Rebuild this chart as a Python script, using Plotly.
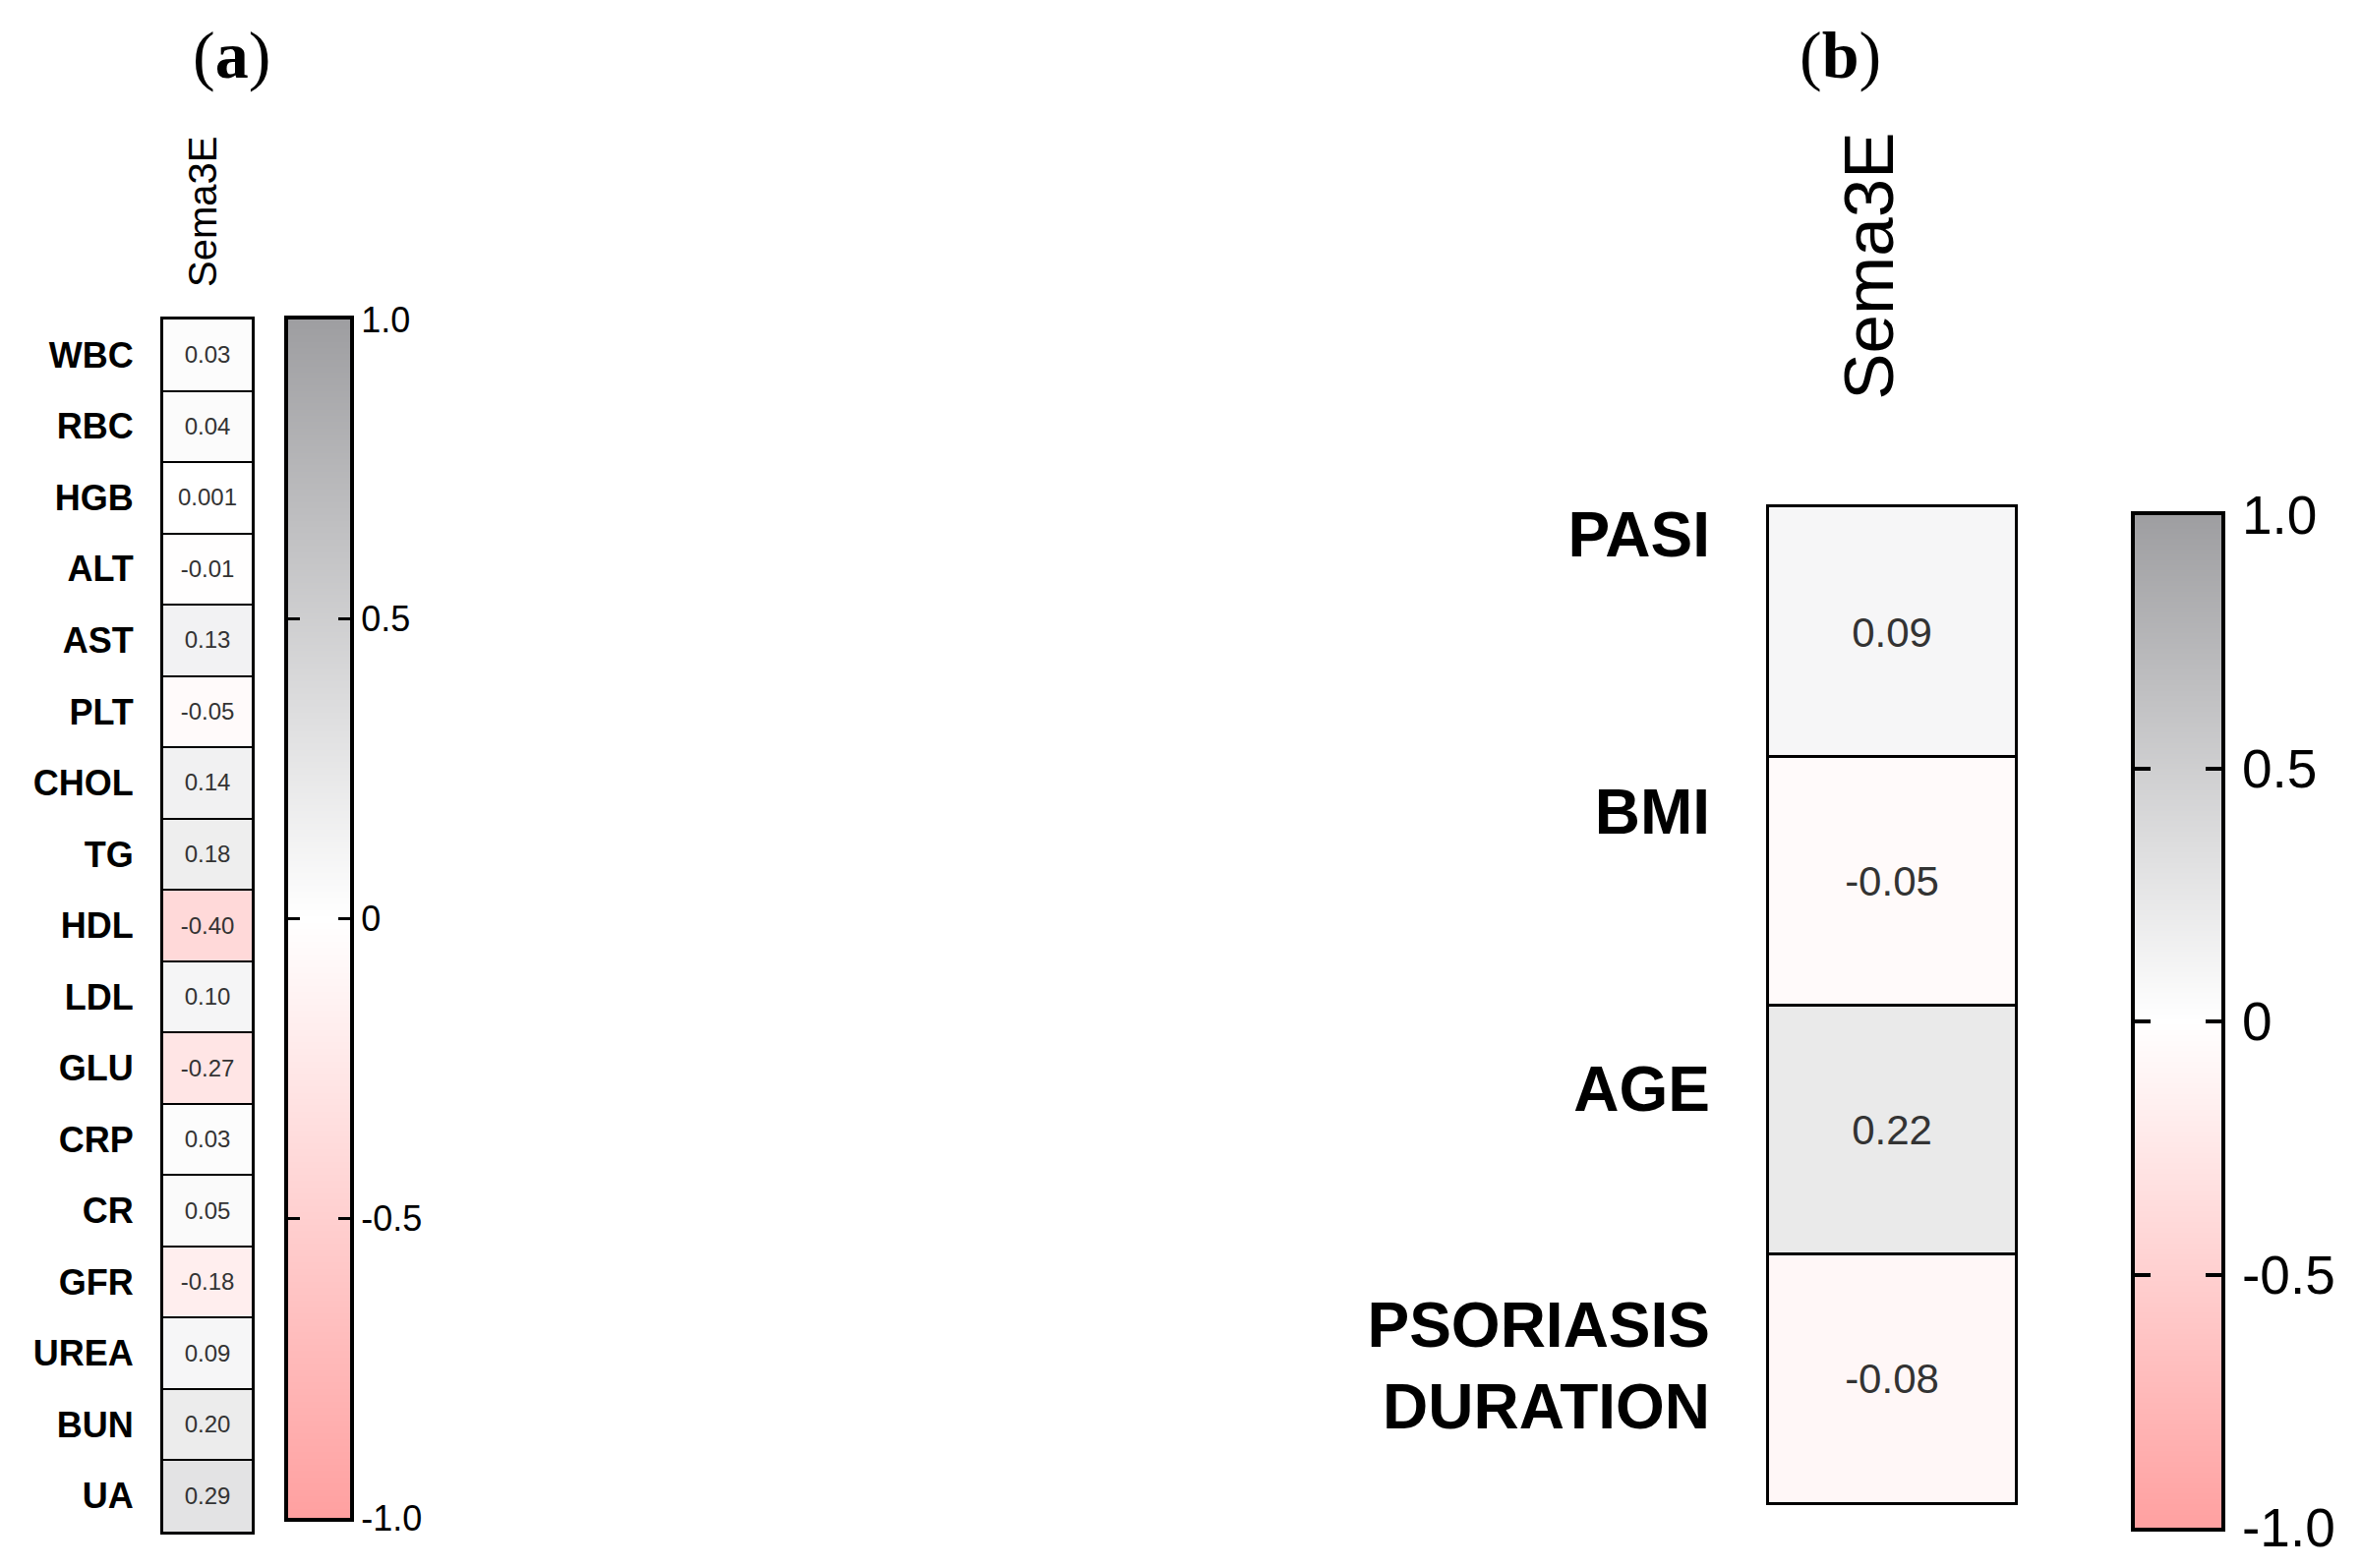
import plotly.graph_objects as go

W, H = 2401, 1595

# panel (a) - blood parameters vs Sema3E
a_labels = ["WBC", "RBC", "HGB", "ALT", "AST", "PLT", "CHOL", "TG", "HDL",
            "LDL", "GLU", "CRP", "CR", "GFR", "UREA", "BUN", "UA"]
a_values = [0.03, 0.04, 0.001, -0.01, 0.13, -0.05, 0.14, 0.18, -0.40,
            0.10, -0.27, 0.03, 0.05, -0.18, 0.09, 0.20, 0.29]
a_text = ["0.03", "0.04", "0.001", "-0.01", "0.13", "-0.05", "0.14", "0.18", "-0.40",
          "0.10", "-0.27", "0.03", "0.05", "-0.18", "0.09", "0.20", "0.29"]

# panel (b) - clinical parameters vs Sema3E
b_labels = ["PASI", "BMI", "AGE", "PSORIASIS<br>DURATION"]
b_values = [0.09, -0.05, 0.22, -0.08]
b_text = ["0.09", "-0.05", "0.22", "-0.08"]

column = ["Sema3E"]
bar_ticks = [-1.0, -0.5, 0.0, 0.5, 1.0]
bar_ticktext = ["-1.0", "-0.5", "0", "0.5", "1.0"]

scale = [[0.0, "rgb(255,160,160)"], [0.5, "rgb(255,255,255)"], [1.0, "rgb(158,158,161)"]]
FONT = "Liberation Sans, Arial, sans-serif"
SERIF = "Liberation Serif, Times New Roman, serif"


def px(x):
    return x / W


def py(y):
    return 1 - y / H


fig = go.Figure()

fig.add_trace(go.Heatmap(
    z=[[v] for v in a_values], x=column, y=a_labels,
    text=[[t] for t in a_text], texttemplate="%{text}",
    textfont=dict(size=24, color="#333333", family=FONT),
    coloraxis="coloraxis", xaxis="x", yaxis="y", hoverinfo="skip"))

fig.add_trace(go.Heatmap(
    z=[[v] for v in b_values], x=column, y=b_labels,
    text=[[t] for t in b_text], texttemplate="%{text}",
    textfont=dict(size=42, color="#333333", family=FONT),
    coloraxis="coloraxis", xaxis="x2", yaxis="y2", hoverinfo="skip"))

# row names of (b) are spread a little wider than the cells in the original
fig.add_trace(go.Scatter(
    x=column * len(b_labels), y=b_labels, mode="markers",
    marker=dict(opacity=0), xaxis="x5", yaxis="y5", hoverinfo="skip"))

# colour bars drawn as smooth heatmaps so the ticks can sit on both edges
for xa, ya in [("x3", "y3"), ("x4", "y4")]:
    fig.add_trace(go.Heatmap(
        z=[[t, t] for t in bar_ticks], x=[0, 1], y=bar_ticks, zsmooth="best",
        coloraxis="coloraxis", xaxis=xa, yaxis=ya, hoverinfo="skip"))

cat_x = dict(side="top", tickangle=-90, ticks="", showline=True, mirror=True,
             linecolor="black", showgrid=False, zeroline=False, automargin=False)
# cell dividers come from boundary ticks drawn across the column
cat_y = dict(autorange="reversed", ticks="inside", tickson="boundaries",
             tickcolor="black", showline=True, mirror=True,
             linecolor="black", showgrid=False, zeroline=False, automargin=False)
bar_x = dict(range=[0, 1], showline=True, mirror=True, linecolor="black",
             showticklabels=False, ticks="", showgrid=False, zeroline=False,
             automargin=False)
bar_y = dict(range=[-1, 1], side="right", tickvals=bar_ticks, ticktext=bar_ticktext,
             ticks="inside", mirror="ticks", showline=True, linecolor="black",
             tickcolor="black", showgrid=False, zeroline=False, automargin=False)

fig.update_layout(
    width=W, height=H,
    margin=dict(l=0, r=0, t=0, b=0),
    paper_bgcolor="white", plot_bgcolor="white",
    showlegend=False,
    font=dict(family=FONT, color="black"),
    coloraxis=dict(colorscale=scale, cmin=-1, cmax=1, showscale=False),
    xaxis=dict(cat_x, domain=[px(158), px(248)], anchor="y", linewidth=3,
               tickfont=dict(size=40), ticklabelstandoff=22, ticklabelshift=-4),
    yaxis=dict(cat_y, domain=[py(1550), py(317)], anchor="x", linewidth=3,
               ticklen=90, tickwidth=2,
               tickfont=dict(size=36, weight="bold"), ticklabelstandoff=20),
    xaxis2=dict(cat_x, domain=[px(1791), px(2041)], anchor="y2", linewidth=3,
                tickfont=dict(size=71), ticklabelstandoff=92, ticklabelshift=-22),
    yaxis2=dict(cat_y, domain=[py(1520), py(508)], anchor="x2", linewidth=3,
                ticklen=250, tickwidth=3, showticklabels=False),
    xaxis5=dict(domain=[px(1783), px(1789)], anchor="y5",
                showticklabels=False, showline=False, ticks="", showgrid=False,
                zeroline=False, automargin=False),
    yaxis5=dict(domain=[py(1522), py(395)], anchor="x5", range=[3.5, -0.5],
                showline=False, ticks="", showgrid=False, zeroline=False,
                automargin=False, tickfont=dict(size=64, weight="bold"),
                ticklabelstandoff=51),
    xaxis3=dict(bar_x, domain=[px(285), px(348)], anchor="y3", linewidth=4),
    yaxis3=dict(bar_y, domain=[py(1536), py(317)], anchor="x3", linewidth=4,
                ticklen=12, tickwidth=3, tickfont=dict(size=36), ticklabelstandoff=0),
    xaxis4=dict(bar_x, domain=[px(2163), px(2251)], anchor="y4", linewidth=4),
    yaxis4=dict(bar_y, domain=[py(1546), py(516)], anchor="x4", linewidth=4,
                ticklen=16, tickwidth=4, tickfont=dict(size=55), ticklabelstandoff=6),
)

fig.add_annotation(text="(<b>a</b>)", x=px(227), y=py(48), xref="paper", yref="paper",
                   xanchor="center", yanchor="middle", showarrow=False,
                   font=dict(family=SERIF, size=68))
fig.add_annotation(text="(<b>b</b>)", x=px(1863), y=py(48), xref="paper", yref="paper",
                   xanchor="center", yanchor="middle", showarrow=False,
                   font=dict(family=SERIF, size=68))

fig.write_html("out.html")
